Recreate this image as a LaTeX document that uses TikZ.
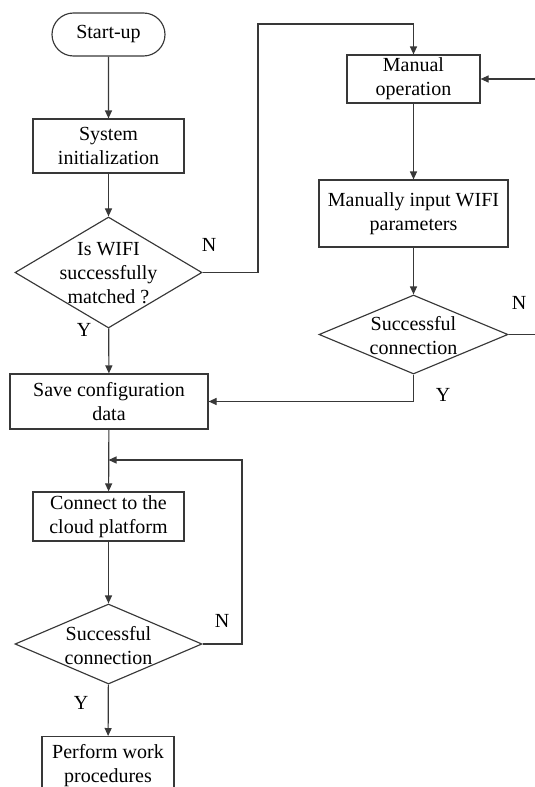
\documentclass[tikz,border=0pt]{standalone}
\usepackage{fontspec}
\setmainfont{Liberation Serif}
\usetikzlibrary{shapes.geometric,shapes.misc,arrows.meta}
\begin{document}
\begin{tikzpicture}[x=1pt,y=-1pt,
  every node/.style={font=\fontsize{20}{24}\selectfont, text=black},
  box/.style={draw=black!78, line width=1.15pt, inner sep=0pt, align=center},
  term/.style={draw=black!78, line width=1.15pt, rounded rectangle, inner sep=0pt},
  dia/.style={draw=black!78, line width=1.15pt, diamond, inner sep=0pt},
  lbl/.style={align=center, inner sep=0pt},
  yn/.style={inner sep=0pt},
  flow/.style={draw=black!78, line width=1.15pt, -{Triangle[length=8pt,width=7pt]}}
]
\path[use as bounding box] (0,0) rectangle (535,787);

% left column
\node[term, minimum width=113pt, minimum height=43pt] (start) at (108.5,34.5) {Start-up};
\node[box, minimum width=151pt, minimum height=54pt] (init) at (108.5,146) {System\\initialization};
\node[dia, minimum width=187pt, minimum height=111pt] (q1) at (108.5,272.5) {};
\node[lbl] (q1t) at (108.5,273) {Is WIFI\\successfully\\matched ?};
\node[box, minimum width=198pt, minimum height=55pt] (save) at (109,401.5) {Save configuration\\data};
\node[box, minimum width=151pt, minimum height=49pt] (cloud) at (108.5,516.5) {Connect to the\\cloud platform};
\node[dia, minimum width=187pt, minimum height=80pt] (q3) at (108.5,644) {};
\node[lbl] (q3t) at (108.5,646) {Successful\\connection};
\node[box, minimum width=132pt, minimum height=58pt, anchor=north] (work) at (108,736) {Perform work\\procedures};

% right column
\node[box, minimum width=133pt, minimum height=48pt] (manual) at (413.5,79) {Manual\\operation};
\node[box, minimum width=189pt, minimum height=67pt] (input) at (413.5,213.5) {Manually input WIFI\\parameters};
\node[dia, minimum width=189pt, minimum height=79pt] (q2) at (413.5,334.5) {};
\node[lbl] (q2t) at (413.5,336) {Successful\\connection};

% branch labels
\node[yn] (n1) at (209,245) {N};
\node[yn] (y1) at (84,330) {Y};
\node[yn] (n2) at (519,303) {N};
\node[yn] (y2) at (443,395) {Y};
\node[yn] (n3) at (222,621) {N};
\node[yn] (y3) at (81,703) {Y};

\coordinate (jn) at (108.5,460);

% connectors
\draw[flow] (start) -- (init);
\draw[flow] (init) -- (q1);
\draw[flow] (q1) -- (save);
\draw[flow] (q1.east) -| (258,24) -| (manual.north);
\draw[flow] (manual) -- (input);
\draw[flow] (input) -- (q2);
\draw[flow] (q2.south) |- (save.east);
\draw[flow] (q2.east) -- (545,334.5) |- (manual.east);
\draw[flow] (save) -- (cloud);
\draw[flow] (cloud) -- (q3);
\draw[flow] (q3) -- (work);
\draw[flow] (q3.east) -| (242,460) -- (jn);
\end{tikzpicture}
\end{document}
